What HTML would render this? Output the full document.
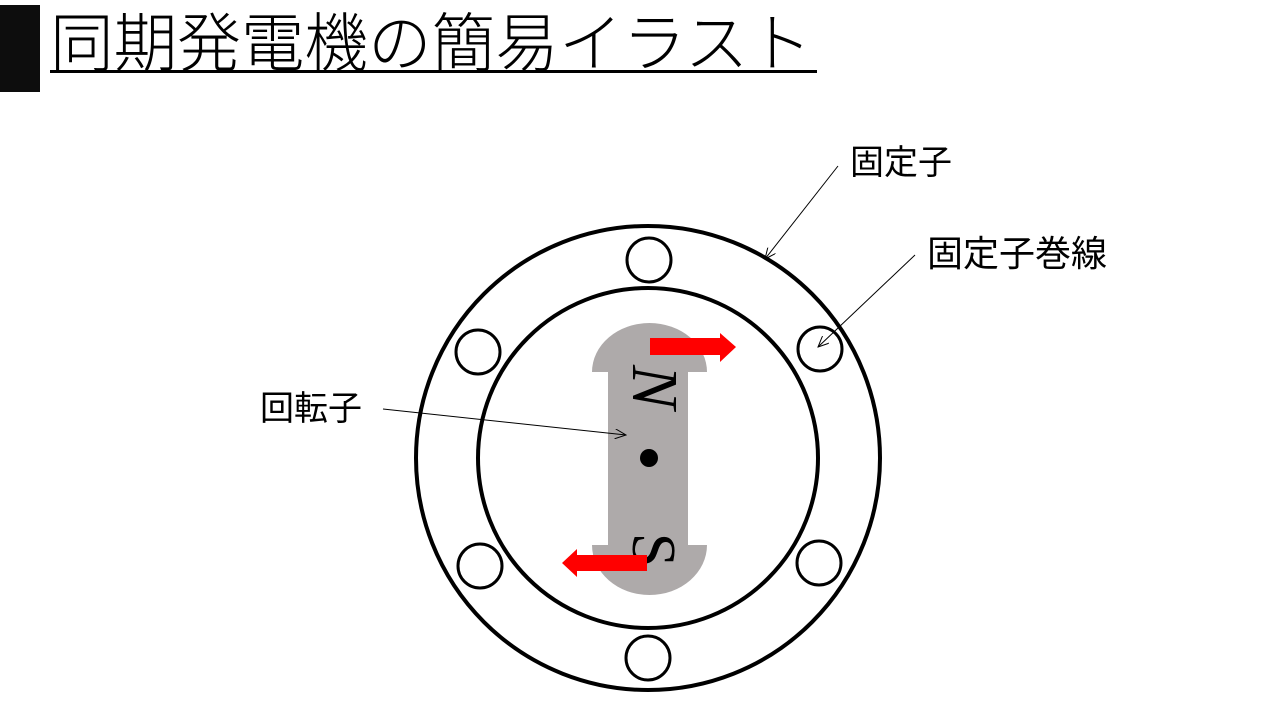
<!DOCTYPE html>
<html><head><meta charset="utf-8"><style>
html,body{margin:0;padding:0;background:#fff;}
svg{display:block;}
.j{font-family:"Liberation Sans","Noto Sans CJK JP",sans-serif;}
.s{font-family:"Liberation Serif",serif;}
</style></head><body>
<svg width="1280" height="720" viewBox="0 0 1280 720" xmlns="http://www.w3.org/2000/svg">
<defs>
<marker id="ah" markerWidth="12" markerHeight="10" refX="11" refY="5" orient="auto" markerUnits="userSpaceOnUse">
<path d="M0,0 L11,5 L0,10" fill="none" stroke="#000" stroke-width="1"/>
</marker>
</defs>
<rect x="0" y="5" width="40" height="87" fill="#0d0d0d"/>
<text class="j" x="50" y="66" font-size="64" textLength="762" lengthAdjust="spacingAndGlyphs" font-weight="300" fill="#000">同期発電機の簡易イラスト</text>
<rect x="50" y="70" width="767" height="3" fill="#000"/>

<circle cx="648" cy="458" r="232" fill="none" stroke="#000" stroke-width="4"/>
<circle cx="648" cy="458" r="170" fill="none" stroke="#000" stroke-width="4"/>
<g fill="#fff" stroke="#000" stroke-width="3">
<circle cx="649" cy="260" r="22"/>
<circle cx="478" cy="352" r="22"/>
<circle cx="820" cy="349" r="22"/>
<circle cx="480" cy="566" r="22"/>
<circle cx="819" cy="563" r="22"/>
<circle cx="648" cy="658" r="22"/>
</g>

<path d="M608,372 L592,372 A57.5,49 0 0 1 707,372 L688,372 L688,545 L707,545 A57.5,50 0 0 1 592,545 L608,545 Z" fill="#aeaaaa"/>
<circle cx="649" cy="458" r="9" fill="#000"/>
<text class="s" x="0" y="0" font-size="66" font-style="italic" fill="#000" transform="translate(633,387) rotate(90)" text-anchor="middle">N</text>
<text class="s" x="0" y="0" font-size="62" fill="#000" transform="translate(633,550) rotate(90)" text-anchor="middle">S</text>

<path d="M650,338 L720,338 L720,333 L736,347 L720,362 L720,355 L650,355 Z" fill="#ff0000"/>
<path d="M647,555 L577,555 L577,549 L562,563 L577,577 L577,571 L647,571 Z" fill="#ff0000"/>

<line x1="838" y1="166" x2="765" y2="259" stroke="#000" stroke-width="1" marker-end="url(#ah)"/>
<line x1="915" y1="255" x2="818" y2="347" stroke="#000" stroke-width="1" marker-end="url(#ah)"/>
<line x1="383" y1="409" x2="626" y2="435" stroke="#000" stroke-width="1" marker-end="url(#ah)"/>

<text class="j" x="850" y="174" font-size="34" fill="#000">固定子</text>
<text class="j" x="927" y="266" font-size="36" fill="#000">固定子巻線</text>
<text class="j" x="260" y="420" font-size="34" fill="#000">回転子</text>
</svg>
</body></html>
